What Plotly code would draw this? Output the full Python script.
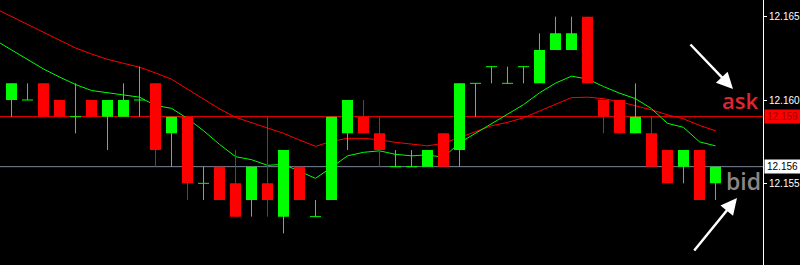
import plotly.graph_objects as go

# ---- data ----
idx = list(range(45))
opens = [12.160, 12.160, 12.161, 12.160, 12.159, 12.160, 12.159, 12.159, 12.160, 12.161,
         12.158, 12.159, 12.155, 12.156, 12.155, 12.154, 12.155, 12.153, 12.156, 12.153,
         12.154, 12.158, 12.159, 12.158, 12.156, 12.156, 12.156, 12.158, 12.157, 12.161,
         12.162, 12.161, 12.162, 12.161, 12.163, 12.163, 12.165, 12.160, 12.160, 12.158,
         12.158, 12.157, 12.156, 12.157, 12.155]
highs = [12.161, 12.161, 12.161, 12.160, 12.161, 12.160, 12.160, 12.161, 12.162, 12.161,
         12.159, 12.159, 12.156, 12.156, 12.157, 12.156, 12.159, 12.157, 12.156, 12.154,
         12.159, 12.160, 12.160, 12.159, 12.157, 12.157, 12.157, 12.158, 12.161, 12.161,
         12.162, 12.162, 12.162, 12.164, 12.165, 12.165, 12.165, 12.160, 12.160, 12.161,
         12.159, 12.157, 12.157, 12.157, 12.156]
lows = [12.159, 12.160, 12.159, 12.159, 12.158, 12.159, 12.157, 12.159, 12.159, 12.156,
        12.156, 12.154, 12.154, 12.154, 12.153, 12.153, 12.153, 12.152, 12.154, 12.153,
        12.154, 12.157, 12.158, 12.156, 12.156, 12.156, 12.156, 12.156, 12.156, 12.159,
        12.161, 12.161, 12.161, 12.161, 12.163, 12.163, 12.161, 12.158, 12.158, 12.158,
        12.156, 12.155, 12.155, 12.154, 12.154]
closes = [12.161, 12.160, 12.159, 12.159, 12.159, 12.159, 12.160, 12.160, 12.160, 12.157,
          12.159, 12.155, 12.155, 12.154, 12.153, 12.156, 12.154, 12.157, 12.154, 12.153,
          12.159, 12.160, 12.158, 12.157, 12.156, 12.156, 12.157, 12.156, 12.161, 12.161,
          12.162, 12.161, 12.162, 12.163, 12.164, 12.164, 12.161, 12.159, 12.158, 12.159,
          12.156, 12.155, 12.157, 12.154, 12.156]

ma_idx = list(range(-1, 45))
ma_slow = [12.16548, 12.16501, 12.16454, 12.16406, 12.16359, 12.16312, 12.16276, 12.16244,
           12.16220, 12.16197, 12.16162, 12.16125, 12.16065, 12.16005, 12.15947, 12.15896,
           12.15863, 12.15830, 12.15800, 12.15760, 12.15722, 12.15752, 12.15770, 12.15770,
           12.15761, 12.15746, 12.15734, 12.15725, 12.15740, 12.15776, 12.15810, 12.15845,
           12.15866, 12.15893, 12.15934, 12.15974, 12.16014, 12.16017, 12.16008, 12.15990,
           12.15966, 12.15941, 12.15911, 12.15887, 12.15848, 12.15815]
ma_fast = [12.16358, 12.16299, 12.16242, 12.16186, 12.16138, 12.16093, 12.16057, 12.16043,
           12.16033, 12.16017, 12.15967, 12.15950, 12.15889, 12.15816, 12.15734, 12.15660,
           12.15642, 12.15608, 12.15614, 12.15572, 12.15530, 12.15596, 12.15665, 12.15686,
           12.15695, 12.15674, 12.15665, 12.15671, 12.15656, 12.15743, 12.15800, 12.15854,
           12.15914, 12.15972, 12.16043, 12.16101, 12.16143, 12.16126, 12.16081, 12.16041,
           12.16008, 12.15948, 12.15860, 12.15836, 12.15749, 12.15725]

ask_price = 12.159
bid_price = 12.156
tick_vals = [12.155, 12.160, 12.165]

# ---- styling ----
GREEN = "#00ff00"
RED = "#ff0000"
HALF = 0.344

def build(up):
    wx, wy, bx, by = [], [], [], []
    for i, o, h, l, c in zip(idx, opens, highs, lows, closes):
        doji = abs(o - c) < 1e-9
        bull = c > o or doji
        if bull != up:
            continue
        wx += [i, i, None]
        wy += [l, h, None]
        if doji:
            wx += [i - HALF, i + HALF, None]
            wy += [o, o, None]
        else:
            lo, hi = min(o, c), max(o, c)
            bx += [i - HALF, i + HALF, i + HALF, i - HALF, i - HALF, None]
            by += [lo, lo, hi, hi, lo, None]
    return wx, wy, bx, by

fig = go.Figure()
fig.add_trace(go.Scatter(x=ma_idx, y=ma_slow, mode="lines",
                         line=dict(color=RED, width=1), hoverinfo="skip"))
fig.add_trace(go.Scatter(x=ma_idx, y=ma_fast, mode="lines",
                         line=dict(color=GREEN, width=1), hoverinfo="skip"))
for up, col in [(True, GREEN), (False, RED)]:
    wx, wy, bx, by = build(up)
    fig.add_trace(go.Scatter(x=wx, y=wy, mode="lines",
                             line=dict(color=col, width=1), hoverinfo="skip"))
    fig.add_trace(go.Scatter(x=bx, y=by, mode="lines", fill="toself",
                             fillcolor=col, line=dict(color=col, width=0),
                             hoverinfo="skip"))

fig.add_shape(type="line", xref="paper", x0=0, x1=1, yref="y", y0=ask_price, y1=ask_price,
              line=dict(color=RED, width=1), layer="below")
fig.add_shape(type="line", xref="paper", x0=0, x1=1, yref="y", y0=bid_price, y1=bid_price,
              line=dict(color="#778899", width=1), layer="below")

# price tags
fig.add_annotation(xref="paper", x=1, xanchor="left", xshift=1, yref="y", y=ask_price,
                   text=f"{ask_price:.3f}", showarrow=False, bgcolor=RED,
                   font=dict(family="Liberation Sans", size=10, color="#a00000"),
                   borderpad=1, width=33)
fig.add_annotation(xref="paper", x=1, xanchor="left", xshift=1, yref="y", y=bid_price,
                   text=f"{bid_price:.3f}", showarrow=False, bgcolor="#ffffff",
                   font=dict(family="Liberation Sans", size=10, color="#000000"),
                   borderpad=1, width=33)

# ask / bid labels
fig.add_annotation(xref="paper", yref="paper", x=740 / 763, y=1 - 100 / 265,
                   text="ask", showarrow=False, xanchor="center", yanchor="middle",
                   font=dict(family="Open Sans", size=22, color="#e0262e", weight=600))
fig.add_annotation(xref="paper", yref="paper", x=743 / 763, y=1 - 181 / 265,
                   text="bid", showarrow=False, xanchor="center", yanchor="middle",
                   font=dict(family="Open Sans", size=23, color="#8c8585", weight=600))

# arrows
fig.add_annotation(xref="paper", yref="paper", x=733 / 763, y=1 - 89 / 265,
                   ax=-44, ay=-46, axref="pixel", ayref="pixel", text="",
                   showarrow=True, arrowhead=2, arrowsize=1.3, arrowwidth=2.5,
                   arrowcolor="#ffffff")
fig.add_annotation(xref="paper", yref="paper", x=737 / 763, y=1 - 198 / 265,
                   ax=-44, ay=54, axref="pixel", ayref="pixel", text="",
                   showarrow=True, arrowhead=2, arrowsize=1.3, arrowwidth=2.5,
                   arrowcolor="#ffffff")

fig.update_layout(
    width=800, height=265,
    margin=dict(l=0, r=37, t=0, b=0),
    paper_bgcolor="#000000", plot_bgcolor="#000000",
    showlegend=False,
    xaxis=dict(range=[-0.72, 46.97], visible=False, showgrid=False, zeroline=False),
    yaxis=dict(range=[12.1501, 12.1660], side="right", showgrid=False, zeroline=False,
               tickvals=tick_vals, ticktext=[f"{v:.3f}" for v in tick_vals],
               ticks="outside", ticklen=3, tickcolor="#ffffff",
               showline=True, linecolor="#ffffff", linewidth=1,
               tickfont=dict(family="Liberation Sans", size=10, color="#ffffff")),
)

fig.write_html("out.html")
